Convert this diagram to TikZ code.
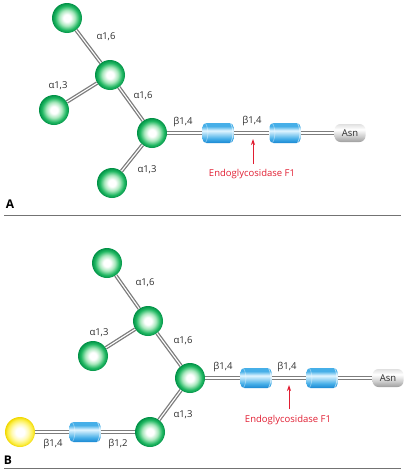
\documentclass[tikz,border=0pt]{standalone}
\usepackage{fontspec}
\setmainfont{Open Sans}
\usetikzlibrary{arrows.meta}
\definecolor{gdark}{RGB}{0,145,70}
\definecolor{gbase}{RGB}{35,185,100}
\definecolor{gmid}{RGB}{170,232,190}
\definecolor{ydark}{RGB}{240,215,0}
\definecolor{ybase}{RGB}{252,238,70}
\definecolor{ymid}{RGB}{255,250,180}
\definecolor{bdark}{RGB}{25,135,210}
\definecolor{bbase}{RGB}{70,175,232}
\definecolor{blight}{RGB}{225,245,255}
\definecolor{linkgray}{RGB}{125,125,125}
\definecolor{labgray}{RGB}{45,45,45}
\definecolor{endored}{RGB}{225,30,50}
\pgfdeclareradialshading{greenball}{\pgfpoint{0bp}{0bp}}{color(0bp)=(white); color(6bp)=(white); color(13bp)=(gmid); color(20bp)=(gbase); color(25bp)=(gdark); color(50bp)=(gdark)}
\pgfdeclareradialshading{yellowball}{\pgfpoint{0bp}{0bp}}{color(0bp)=(white); color(7bp)=(white); color(14bp)=(ymid); color(21bp)=(ybase); color(25bp)=(ydark); color(50bp)=(ydark)}
\pgfdeclareverticalshading{bluecyl}{100bp}{color(0bp)=(bdark); color(25bp)=(bdark); color(36bp)=(bbase); color(56bp)=(blight); color(67bp)=(bbase); color(75bp)=(bbase); color(100bp)=(bbase)}
\pgfdeclareverticalshading{graybox}{100bp}{color(0bp)=(black!38); color(25bp)=(black!38); color(42bp)=(black!18); color(60bp)=(white); color(75bp)=(black!12); color(100bp)=(black!12)}
\begin{document}
\begin{tikzpicture}[x=1pt,y=-1pt,
  sphere/.style={circle, minimum size=30pt, inner sep=0pt, shading=greenball},
  ysphere/.style={circle, minimum size=30pt, inner sep=0pt, shading=yellowball},
  cyl/.style={rectangle, rounded corners=4pt, minimum width=31pt, minimum height=20pt, inner sep=0pt, shading=bluecyl,
    path picture={\draw[white, opacity=0.55, line width=0.8pt] ([xshift=-3pt]path picture bounding box.north east) to[bend left=25] ([xshift=-3pt]path picture bounding box.south east);
                  \draw[white, opacity=0.35, line width=0.8pt] ([xshift=3pt]path picture bounding box.north west) to[bend left=25] ([xshift=3pt]path picture bounding box.south west);}},
  asn/.style={rectangle, rounded corners=6pt, minimum width=31pt, minimum height=18pt, inner sep=0pt, shading=graybox, text=labgray, font=\fontsize{9.5}{11}\selectfont},
  link/.style={draw=linkgray, double=white, double distance=1.1pt, line width=1.3pt},
  lab/.style={font=\fontsize{9.5}{11}\selectfont, text=labgray, inner sep=0pt},
  endo/.style={font=\fontsize{9.5}{11}\selectfont, text=endored, inner sep=0pt},
  cut/.style={endored, line width=0.8pt, -{Stealth[length=6pt,width=4pt]}},
  panel/.style={font=\fontsize{12}{14}\selectfont\bfseries, text=black, inner sep=0pt},
  sep/.style={draw=black!55, line width=0.9pt}]
\useasboundingbox (0,0) rectangle (406,474);

% ---------------- Panel A ----------------
\node[sphere] (a1) at (67,18) {};
\node[sphere] (a2) at (110,75) {};
\node[sphere] (a3) at (54,110) {};
\node[sphere] (a4) at (152,133) {};
\node[sphere] (a5) at (112,183) {};
\node[cyl] (ac1) at (218,133) {};
\node[cyl] (ac2) at (285,133) {};
\node[asn] (aasn) at (350,133) {Asn};
\draw[link] (a1) -- (a2);
\draw[link] (a3) -- (a2);
\draw[link] (a2) -- (a4);
\draw[link] (a5) -- (a4);
\draw[link] (a4) -- (ac1);
\draw[link] (ac1) -- (ac2);
\draw[link] (ac2) -- (aasn);
\node[lab] (la1) at (106,37) {α1,6};
\node[lab] (la2) at (58,86) {α1,3};
\node[lab] (la3) at (143,96) {α1,6};
\node[lab] (la4) at (147,170) {α1,3};
\node[lab] (la5) at (183,122) {β1,4};
\node[lab] (la6) at (252,121) {β1,4};
\node[endo] (ea) at (252,174) {Endoglycosidase F1};
\coordinate (eat) at (253,164);
\coordinate (eah) at (253,139);
\draw[cut] (eat) -- (eah);
\node[panel] (pa) at (10,204) {A};
\coordinate (sa1) at (4,215);
\coordinate (sa2) at (401,215);
\draw[sep] (sa1) -- (sa2);

% ---------------- Panel B ----------------
\node[sphere] (b1) at (107,263) {};
\node[sphere] (b2) at (148,321) {};
\node[sphere] (b3) at (93,356) {};
\node[sphere] (b4) at (190,378) {};
\node[sphere] (b5) at (150,432) {};
\node[ysphere] (by) at (20,432) {};
\node[cyl] (bc0) at (85,432) {};
\node[cyl] (bc1) at (256,378) {};
\node[cyl] (bc2) at (322,378) {};
\node[asn] (basn) at (388,378) {Asn};
\draw[link] (b1) -- (b2);
\draw[link] (b3) -- (b2);
\draw[link] (b2) -- (b4);
\draw[link] (b5) -- (b4);
\draw[link] (by) -- (bc0);
\draw[link] (bc0) -- (b5);
\draw[link] (b4) -- (bc1);
\draw[link] (bc1) -- (bc2);
\draw[link] (bc2) -- (basn);
\node[lab] (lb1) at (145,283) {α1,6};
\node[lab] (lb2) at (99,333) {α1,3};
\node[lab] (lb3) at (183,341) {α1,6};
\node[lab] (lb4) at (183,415) {α1,3};
\node[lab] (lb5) at (53,444) {β1,4};
\node[lab] (lb6) at (118,444) {β1,2};
\node[lab] (lb7) at (223,367) {β1,4};
\node[lab] (lb8) at (287,367) {β1,4};
\node[endo] (eb) at (288,420) {Endoglycosidase F1};
\coordinate (ebt) at (289,409);
\coordinate (ebh) at (289,385);
\draw[cut] (ebt) -- (ebh);
\node[panel] (pb) at (8,460) {B};
\coordinate (sb1) at (4,468);
\coordinate (sb2) at (401,468);
\draw[sep] (sb1) -- (sb2);
\end{tikzpicture}
\end{document}
